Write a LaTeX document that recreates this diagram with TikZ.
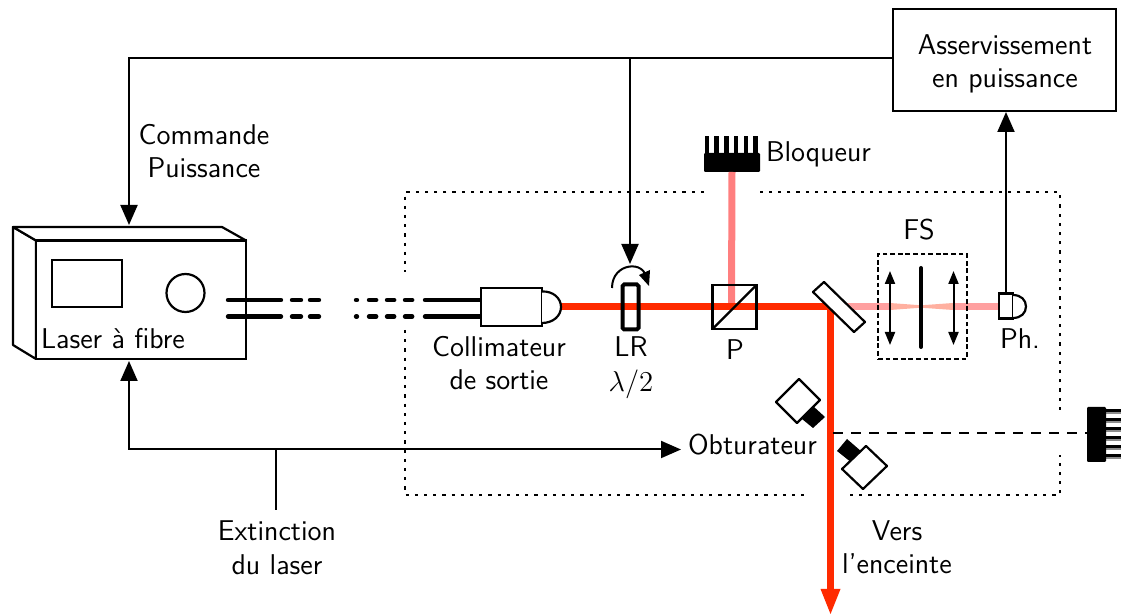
\documentclass[tikz,border=0pt]{standalone}
\usetikzlibrary{arrows.meta}
\renewcommand{\familydefault}{\sfdefault}
\definecolor{beamred}{HTML}{FF2A00}
\definecolor{beampink}{HTML}{FF7F7F}
\definecolor{beampale}{HTML}{FFA0A0}
\definecolor{beampeach}{HTML}{FFB0A0}
\tikzset{
  x=0.5pt,y=-0.5pt,
  every node/.style={font=\fontsize{14.3}{17}\selectfont,inner sep=0pt,outer sep=0pt},
  part/.style={draw=black,line width=1.1pt,fill=white},
  sigtip/.style={-{Triangle[length=10pt,width=8.5pt]}},
  sig/.style={draw=black,line width=1pt},
  dots/.style={draw=black,line width=1pt,dash pattern=on 1.6pt off 3pt},
  dashbox/.style={draw=black,line width=1pt,dash pattern=on 2.4pt off 1.4pt},
  longdash/.style={draw=black,line width=1pt,dash pattern=on 5.2pt off 3.8pt},
  fibre/.style={draw=black,line width=2.2pt,line cap=round},
  lens/.style={draw=black,line width=1pt,{Triangle[length=6.5pt,width=5pt]}-{Triangle[length=6.5pt,width=5pt]}},
  bar/.style={draw=black,line width=2pt,line cap=round},
  label/.style={align=center,anchor=center},
  beam/.style={line width=3.5pt},
}
\begin{document}
\begin{tikzpicture}
\useasboundingbox (0,0) rectangle (1121,614);
% dotted enclosure
\draw[dots] (704,192) -- (405,192) -- (405,272);
\draw[dots] (405,330) -- (405,495) -- (806,495);
\draw[dots] (850,495) -- (1060,495) -- (1060,455);
\draw[dots] (1060,410) -- (1060,192) -- (758,192);
% named nodes
\node[part,minimum width=111.5pt,minimum height=51pt,anchor=north west] (asserv) at (893,9) {};
\node[label] (asserva) at (1005,45) {Asservissement};
\node[label] (asservb) at (1005,81) {en puissance};
\node[minimum width=28pt,minimum height=9.5pt,fill=black,rounded corners=0.6pt] (blocA) at (732,162.5) {};
\foreach \x in {707,716.7,726.4,736.1,745.8,755.5}
  \fill (\x-2.3,136) rectangle (\x+2.3,154);
\node[anchor=west] (blocAtxt) at (766,154.5) {Bloqueur};
% right blocker
\foreach \y in {409,418,427,436,445,454}{
  \fill (1105,\y) rectangle (1121,\y+3.2);
  \fill[black!45] (1105,\y+3.2) rectangle (1121,\y+4.6);
}
\node[minimum width=9.5pt,minimum height=27.5pt,fill=black,rounded corners=0.6pt] (blocB) at (1096.5,434.5) {};
\coordinate (beamP) at (731.5,306.5);
\coordinate (beamM) at (830.5,306.5);
% beams
\fill[beampale] (842,303) -- (890,303) -- (890,310) -- (842,310) -- cycle;
\fill[beampale] (953,303) -- (1000,303) -- (1000,310) -- (953,310) -- cycle;
\fill[beampeach] (890,303) -- (921,305.3) -- (953,303) -- (953,310) -- (921,307.7) -- (890,310) -- cycle;
\draw[beampink,beam] (blocA.south) -- (beamP);
\draw[beamred,beam] (561,306.5) -- (beamM);
\draw[beamred,beam] (828.75,306.5) -- (830.5,306.5) -- (830.5,592);
\fill[beamred] (820.5,589) -- (840.5,589) -- (830.5,614) -- cycle;
% laser
\draw[part,line join=round] (36,240.5) -- (13,227) -- (13,345) -- (36,359) -- cycle;
\draw[part,line join=round] (36,240.5) -- (13,227) -- (222,227) -- (246,240.5) -- cycle;
\node[part,minimum width=105pt,minimum height=59.2pt,anchor=north west] (laser) at (36,240.5) {};
\node[draw=black,line width=1.1pt,minimum width=35pt,minimum height=23.5pt,anchor=north west] (screen) at (52,260) {};
\node[draw=black,line width=1.1pt,circle,minimum size=19pt] (knob) at (185.5,293) {};
\node[anchor=west] (lasertxt) at (41,339) {Laser à fibre};
% fibres
\foreach \y in {300,316.5}{
  \draw[fibre] (228,\y) -- (281,\y);
  \draw[fibre,dash pattern=on 4.5pt off 4.5pt] (292,\y) -- (319,\y);
  \draw[fibre] (356,\y) -- (357,\y);
  \draw[fibre,dash pattern=on 3.6pt off 5.4pt] (369,\y) -- (414,\y);
  \draw[fibre] (425,\y) -- (481,\y);
}
% collimator
\node[part,minimum width=30.5pt,minimum height=19pt,anchor=north west] (coll) at (481,288) {};
\draw[part] (coll.east) ++(0,-15.5) .. controls (553,291) and (561,298) .. (561,307) .. controls (561,316) and (553,323) .. (542,323);
\node[label] (colla) at (499,347) {Collimateur};
\node[label] (collb) at (499,380) {de sortie};
% half wave plate
\node[draw=black,line width=2pt,rounded corners=0.8pt,minimum width=8pt,minimum height=22.5pt] (lr) at (630.5,307) {};
\draw[draw=black,line width=1pt] (612,288) .. controls (612,262) and (646,260) .. (646,279);
\fill[black] (639,275) -- (650,270) -- (649,286) -- cycle;
\node[label] (lrtxt) at (631,347) {LR};
\node[label] (lrl) at (631,384) {$\lambda/2$};
% cube
\node[draw=black,line width=1.1pt,minimum width=22pt,minimum height=22pt] (cube) at (734.5,307) {};
\draw[black,line width=1.1pt] (cube.south west) -- (cube.north east);
\node[label] (ptxt) at (735,350) {P};
% mirror
\draw[part,line join=round] (813,292) -- (824,282) -- (865,322) -- (854,332) -- cycle;
% spatial filter
\node[dashbox,minimum width=44.5pt,minimum height=52.5pt] (fs) at (922.5,306.5) {};
\node[label] (fstxt) at (919,230) {FS};
\draw[lens] (890,271) -- (890,345);
\draw[lens] (953.5,271) -- (953.5,345);
\draw[bar] (921,268) -- (921,347);
% photodiode
\node[part,minimum width=7pt,minimum height=12.5pt,anchor=north west] (ph) at (999,293.5) {};
\draw[part] (1013,295) .. controls (1021,295) and (1026,300) .. (1026,306.5) .. controls (1026,313) and (1021,318) .. (1013,318);
\node[label] (phtxt) at (1020,339) {Ph.};
% signals
\coordinate (topL) at (129,58);
\coordinate (topM) at (630,58);
\coordinate (topR) at (893,58);
\coordinate (laserIn) at (129,225);
\coordinate (lrIn) at (630,264);
\coordinate (asservIn) at (1006,112);
\coordinate (phOut) at (1006,293.5);
\draw[sig,sigtip] (phOut) -- (asservIn);
\draw[sig,sigtip] (topR) -- (topL) -- (laserIn);
\draw[sig,sigtip] (topM) -- (lrIn);
\node[label] (cmda) at (204,135) {Commande};
\node[label] (cmdb) at (204,168) {Puissance};
\node[anchor=west] (obt) at (688,445) {Obturateur};
\coordinate (laserBot) at (129,361);
\coordinate (botL) at (129,449.5);
\coordinate (botM) at (276,449.5);
\coordinate (obtIn) at (681,449.5);
\coordinate (extEnd) at (276,510);
\draw[sig,{Triangle[length=10pt,width=8.5pt]}-{Triangle[length=10pt,width=8.5pt]}] (laserBot) -- (botL) -- (obtIn);
\draw[sig] (botM) -- (extEnd);
\node[label] (exta) at (277,531) {Extinction};
\node[label] (extb) at (277,565) {du laser};
\node[label] (versa) at (897,531) {Vers};
\node[label] (versb) at (897,564) {l'enceinte};
% shutters
\coordinate (shutA) at (833,433);
\draw[longdash] (shutA) -- (shutA -| blocB.west);
\draw[part,line join=round,fill=white] (799,379) -- (820,400) -- (797,423) -- (776,402) -- cycle;
\fill[black] (813,406) -- (825,417) -- (813,428) -- (802,419) -- cycle;
\fill[black] (847,439) -- (862,452) -- (852,463) -- (837,451) -- cycle;
\draw[part,line join=round] (866,446) -- (887,466) -- (863,489) -- (842,469) -- cycle;
\end{tikzpicture}
\end{document}
